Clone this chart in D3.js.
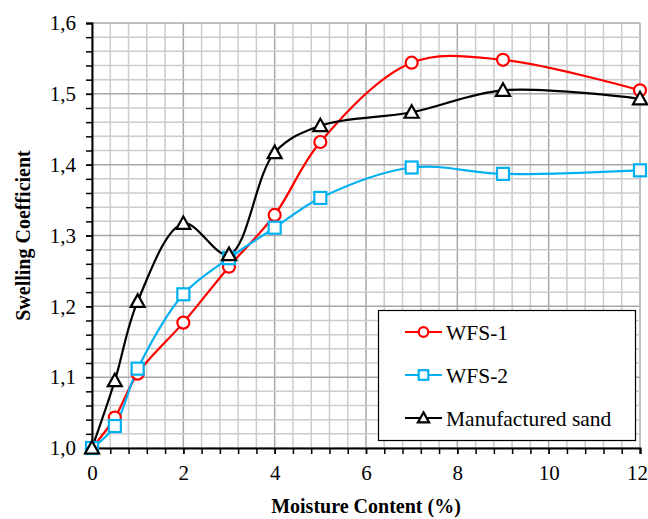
<!DOCTYPE html>
<html><head><meta charset="utf-8">
<script src="https://cdn.jsdelivr.net/npm/d3@7"></script>
<style>body{margin:0;background:#fff}svg{display:block}</style>
</head><body>
<script>
const moisture = [0, 0.5, 1, 2, 3, 4, 5, 7, 9, 12];
const wfs1 = [1.0, 1.043, 1.105, 1.177, 1.256, 1.329, 1.432, 1.544, 1.548, 1.505];
const wfs2 = [1.0, 1.031, 1.112, 1.217, 1.268, 1.311, 1.353, 1.396, 1.387, 1.392];
const msand = [1.0, 1.095, 1.207, 1.317, 1.273, 1.417, 1.455, 1.474, 1.505, 1.493];
const seriesNames = ["WFS-1", "WFS-2", "Manufactured sand"];
const xTicks = [0, 2, 4, 6, 8, 10, 12];
const yTicks = [1.0, 1.1, 1.2, 1.3, 1.4, 1.5, 1.6];

const W = 648, H = 519;
const m = {l: 92, r: 8, t: 23, b: 71};
const svg = d3.select("body").append("svg").attr("width", W).attr("height", H);
const x = d3.scaleLinear().domain([0, 12]).range([m.l, W - m.r]);
const y = d3.scaleLinear().domain([1.0, 1.6]).range([H - m.b, m.t]);
const font = "'Liberation Serif','Times New Roman',serif";

// grid
const xMinor = d3.range(0, 12.001, 0.4);
const yMinor = d3.range(1.0, 1.6001, 0.02);
const g = svg.append("g");
xMinor.forEach(v => {
  const major = Math.abs(v / 2 - Math.round(v / 2)) < 1e-6;
  g.append("line").attr("x1", x(v)).attr("x2", x(v)).attr("y1", y(1.0)).attr("y2", y(1.6))
    .attr("stroke", major ? "#a8a8a8" : "#cccccc").attr("stroke-width", 1.5);
});
yMinor.forEach(v => {
  const major = Math.abs(v * 10 - Math.round(v * 10)) < 1e-6;
  g.append("line").attr("x1", x(0)).attr("x2", x(12)).attr("y1", y(v)).attr("y2", y(v))
    .attr("stroke", major ? "#a8a8a8" : "#cccccc").attr("stroke-width", 1.5);
});

// axes
const yAxisMinor = d3.axisLeft(y).tickValues(yMinor).tickSize(6).tickFormat("");
svg.append("g").attr("transform", `translate(${x(0)},0)`).call(yAxisMinor)
  .call(s => s.selectAll("line,path").attr("stroke", "#000").attr("stroke-width", 1.5))
  .call(s => s.select(".domain").attr("stroke-width", 2));
const yAxis = d3.axisLeft(y).tickValues(yTicks).tickSize(6).tickPadding(10)
  .tickFormat(d => d3.format(".1f")(d).replace(".", ","));
svg.append("g").attr("transform", `translate(${x(0)},0)`).call(yAxis)
  .call(s => s.select(".domain").remove())
  .call(s => s.selectAll("line").attr("stroke", "#000").attr("stroke-width", 1.5))
  .call(s => s.selectAll("text").attr("font-family", font).attr("font-size", 21).attr("fill", "#000"));

const xAxisMinor = d3.axisBottom(x).tickValues(xMinor).tickSize(6).tickFormat("");
svg.append("g").attr("transform", `translate(0,${y(1.0)})`).call(xAxisMinor)
  .call(s => s.selectAll("line,path").attr("stroke", "#000").attr("stroke-width", 1.5))
  .call(s => s.select(".domain").attr("stroke-width", 2));
const xAxis = d3.axisBottom(x).tickValues(xTicks).tickSize(6).tickPadding(11).tickFormat(d3.format("d"));
svg.append("g").attr("transform", `translate(0,${y(1.0)})`).call(xAxis)
  .call(s => s.select(".domain").remove())
  .call(s => s.selectAll("line").attr("stroke", "#000").attr("stroke-width", 1.5))
  .call(s => s.selectAll("text").attr("font-family", font).attr("font-size", 21).attr("fill", "#000"))
  .call(s => s.selectAll("text").filter(d => d === 12).attr("dx", -3));

// titles
svg.append("text").attr("x", 366).attr("y", 513).attr("text-anchor", "middle")
  .attr("font-family", font).attr("font-weight", "bold").attr("font-size", 20).text("Moisture Content (%)");
svg.append("text").attr("transform", `translate(30,${(m.t + H - m.b) / 2}) rotate(-90)`).attr("text-anchor", "middle")
  .attr("font-family", font).attr("font-weight", "bold").attr("font-size", 20).text("Swelling Coefficient");

// series
const series = [
  {name: seriesNames[0], vals: wfs1, color: "#ff0000", mk: "circle"},
  {name: seriesNames[1], vals: wfs2, color: "#00b0f0", mk: "square"},
  {name: seriesNames[2], vals: msand, color: "#000000", mk: "triangle"}
];
const line = d3.line().x(d => x(d[0])).y(d => y(d[1])).curve(d3.curveCatmullRom.alpha(0.5));
function marker(sel, type, color, k) {
  if (type === "circle") sel.append("circle").attr("r", 6 * k);
  else if (type === "square") sel.append("rect").attr("x", -6 * k).attr("y", -6 * k).attr("width", 12 * k).attr("height", 12 * k);
  else sel.append("path").attr("d", `M0,${-7 * k}L${7 * k},${5.5 * k}L${-7 * k},${5.5 * k}Z`);
  sel.selectAll("circle,rect,path").attr("fill", "#fff").attr("stroke", color).attr("stroke-width", 2.2);
}
series.forEach(s => {
  const pts = moisture.map((mv, i) => [mv, s.vals[i]]);
  svg.append("path").attr("d", line(pts)).attr("fill", "none").attr("stroke", s.color).attr("stroke-width", 2.2);
});
series.forEach(s => {
  moisture.forEach((mv, i) => {
    const gm = svg.append("g").attr("transform", `translate(${x(mv)},${y(s.vals[i])})`);
    marker(gm, s.mk, s.color, 1);
  });
});

// legend
const lg = svg.append("g");
lg.append("rect").attr("x", 378.5).attr("y", 310.5).attr("width", 257).attr("height", 130)
  .attr("fill", "#fff").attr("stroke", "#000").attr("stroke-width", 1.2);
series.forEach((s, i) => {
  const yy = 332 + i * 43;
  lg.append("line").attr("x1", 405).attr("x2", 442).attr("y1", yy).attr("y2", yy)
    .attr("stroke", s.color).attr("stroke-width", 2.2);
  const gm = lg.append("g").attr("transform", `translate(423.5,${yy})`);
  marker(gm, s.mk, s.color, 0.8);
  lg.append("text").attr("x", 446).attr("y", yy).attr("dy", "0.35em")
    .attr("font-family", font).attr("font-size", 21.5).text(s.name);
});
</script>
</body></html>
